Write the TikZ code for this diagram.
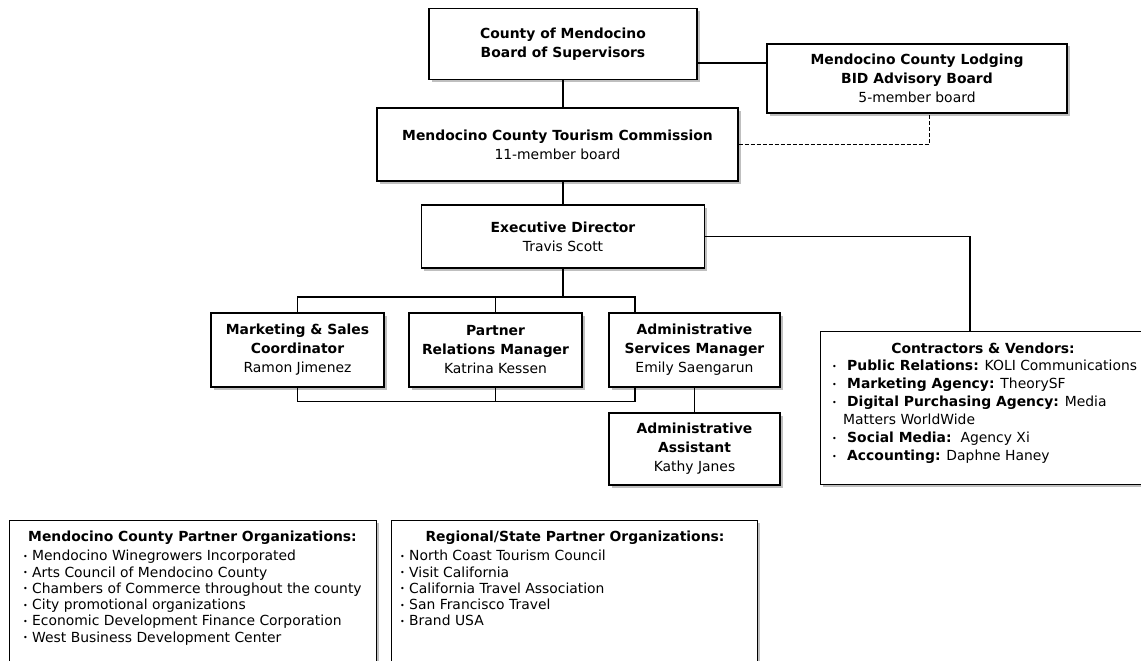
\documentclass[tikz,border=0pt]{standalone}
\usepackage{fontspec}
\setmainfont{DejaVu Sans}
\usetikzlibrary{positioning,shadows}

\newcommand{\bul}[1][9pt]{\makebox[#1][l]{\raisebox{1.5pt}{\fontsize{8}{8}\selectfont\textbullet}}}

\begin{document}
\begin{tikzpicture}[x=1pt,y=-1pt,
    orgbox/.style={draw,line width=1.1pt,fill=white,align=center,inner sep=2pt,
      font=\fontsize{13.9}{19}\selectfont,
      drop shadow={shadow xshift=2.5pt,shadow yshift=-2.5pt,fill=black!45,opacity=.55}},
    listbox/.style={draw,line width=1.1pt,fill=white,anchor=north west,
      drop shadow={shadow xshift=2.5pt,shadow yshift=-2.5pt,fill=black!45,opacity=.55}},
    listtext/.style={anchor=north west,align=left,inner sep=0pt},
    link/.style={line width=1.1pt}]

  \clip (0,0) rectangle (1141,661);
  \fill[white] (0,0) rectangle (1141,661);

  % top of the chart
  \node[orgbox,minimum width=268,minimum height=71] (bos) at (563,44)
    {\textbf{County of Mendocino}\\\textbf{Board of Supervisors}};
  \node[orgbox,minimum width=300,minimum height=69] (lodge) at (917,78.5)
    {\textbf{Mendocino County Lodging}\\\textbf{BID Advisory Board}\\5-member board};
  \node[orgbox,minimum width=361,minimum height=73] (tc) at (557.5,144.5)
    {\textbf{Mendocino County Tourism Commission}\\11-member board};
  \node[orgbox,minimum width=283,minimum height=63] (ed) at (563,236.5)
    {\textbf{Executive Director}\\Travis Scott};

  % staff
  \node[orgbox,minimum width=173,minimum height=74] (msc) at (297.5,350)
    {\textbf{Marketing \& Sales}\\\textbf{Coordinator}\\Ramon Jimenez};
  \node[orgbox,minimum width=173,minimum height=74] (prm) at (495.5,350)
    {\textbf{Partner}\\\textbf{Relations Manager}\\Katrina Kessen};
  \node[orgbox,minimum width=171,minimum height=74] (asm) at (694.5,350)
    {\textbf{Administrative}\\\textbf{Services Manager}\\Emily Saengarun};
  \node[orgbox,minimum width=171,minimum height=72] (aa) at (694.5,449)
    {\textbf{Administrative}\\\textbf{Assistant}\\Kathy Janes};

  % contractors
  \node[listbox,minimum width=345,minimum height=153] (cv) at (820,331) {};
  \node[font=\fontsize{13.9}{18}\selectfont\bfseries] (cvhead) at (983,348)
    {Contractors \& Vendors:};
  \node[listtext,font=\fontsize{13.9}{18}\selectfont] (cvlist) at (832,360)
    {\bul[15pt]\textbf{Public Relations:} KOLI Communications\\
     \bul[15pt]\textbf{Marketing Agency:} TheorySF\\
     \bul[15pt]\textbf{Digital Purchasing Agency:} Media\\
     \hspace*{11pt}Matters WorldWide\\
     \bul[15pt]\textbf{Social Media:}\ \ Agency Xi\\
     \bul[15pt]\textbf{Accounting:} Daphne Haney};

  % partner organisations
  \node[listbox,minimum width=367,minimum height=170] (mcp) at (9,520) {};
  \node[font=\fontsize{13.9}{16.3}\selectfont\bfseries] (mcphead) at (192.5,538)
    {Mendocino County Partner Organizations:};
  \node[listtext,font=\fontsize{13.9}{16.3}\selectfont] (mcplist) at (23,550)
    {\bul Mendocino Winegrowers Incorporated\\
     \bul Arts Council of Mendocino County\\
     \bul Chambers of Commerce throughout the county\\
     \bul City promotional organizations\\
     \bul Economic Development Finance Corporation\\
     \bul West Business Development Center};

  \node[listbox,minimum width=366,minimum height=170] (rsp) at (391,520) {};
  \node[font=\fontsize{13.9}{16.3}\selectfont\bfseries] (rsphead) at (575,538)
    {Regional/State Partner Organizations:};
  \node[listtext,font=\fontsize{13.9}{16.3}\selectfont] (rsplist) at (400,550)
    {\bul North Coast Tourism Council\\
     \bul Visit California\\
     \bul California Travel Association\\
     \bul San Francisco Travel\\
     \bul Brand USA};

  % connectors
  \coordinate (blink) at ([yshift=-19pt]bos.east);
  \draw[link] (blink) -- (blink -| lodge.west);
  \draw[link] (bos.south) -- (bos.south |- tc.north);
  \draw[link,dash pattern=on 4pt off 2pt,line width=.9pt] (tc.east) -| ([xshift=12pt]lodge.south);
  \draw[link] (ed.north) -- (ed.north |- tc.south);
  \draw[link] (ed.east) -| ([xshift=150pt]cv.north west);

  \coordinate (topbar) at (563,297);
  \draw[link] (ed.south) -- (topbar);
  \draw[link] (msc.north) |- (topbar) -| ([xshift=-59.5pt]asm.north);
  \draw[link] (prm.north) -- (prm.north |- topbar);
  \draw[link] (msc.south) |- ([yshift=-14pt]prm.south) -| ([xshift=-59.5pt]asm.south);
  \draw[link] (prm.south) -- ([yshift=-14pt]prm.south);
  \draw[link] (asm.south) -- (aa.north);
\end{tikzpicture}
\end{document}
